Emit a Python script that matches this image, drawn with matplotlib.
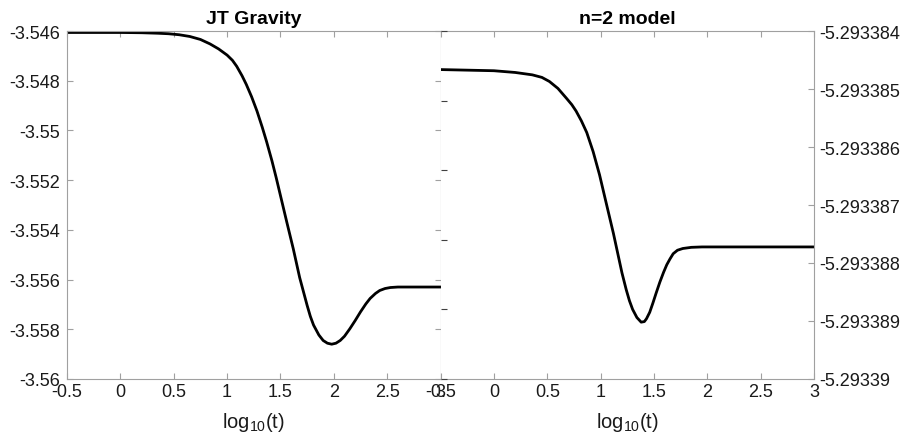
import numpy as np
import matplotlib
matplotlib.use('Agg')
import matplotlib.pyplot as plt
from matplotlib.ticker import FixedLocator, FixedFormatter

plt.rcParams['font.family'] = ['Liberation Sans', 'DejaVu Sans']
plt.rcParams['mathtext.fontset'] = 'custom'
plt.rcParams['mathtext.rm'] = 'Liberation Sans'

# JT Gravity curve
jt_x = [-0.5, 0.0, 0.2, 0.35, 0.45, 0.55, 0.65, 0.75, 0.84, 0.92, 1.0, 1.05, 1.09,
        1.14, 1.18, 1.23, 1.28, 1.33, 1.37, 1.42, 1.46, 1.51, 1.56, 1.62, 1.68,
        1.75, 1.78, 1.81, 1.86, 1.90, 1.94, 1.98, 2.02, 2.06, 2.10, 2.15, 2.20,
        2.25, 2.30, 2.34, 2.39, 2.43, 2.48, 2.53, 2.6, 2.8, 3.0]
jt_y = [-3.54606, -3.54606, -3.54607, -3.54609, -3.54611, -3.54615, -3.54622,
        -3.54634, -3.54652, -3.54672, -3.54697, -3.54718, -3.54742, -3.54780,
        -3.54815, -3.54865, -3.54922, -3.54988, -3.55045, -3.55122, -3.55190,
        -3.55280, -3.55370, -3.55476, -3.55592, -3.55704, -3.55748, -3.55783,
        -3.55823, -3.55845, -3.55856, -3.55860, -3.55856, -3.55845, -3.55828,
        -3.55798, -3.55765, -3.55730, -3.55698, -3.55676, -3.55656, -3.55644,
        -3.55636, -3.55632, -3.55630, -3.55630, -3.55630]

# n=2 model curve
n2_x = [-0.5, 0.0, 0.2, 0.36, 0.45, 0.52, 0.6, 0.68, 0.73, 0.77, 0.82, 0.87,
        0.93, 0.99, 1.04, 1.08, 1.12, 1.16, 1.2, 1.24, 1.27, 1.30, 1.34, 1.38,
        1.41, 1.43, 1.46, 1.49, 1.52, 1.555, 1.59, 1.62, 1.65, 1.68, 1.72, 1.77,
        1.85, 1.95, 2.5, 3.0]
n2_y = [-5.293384665, -5.293384685, -5.293384715, -5.293384756, -5.2933848,
        -5.29338487, -5.29338499, -5.29338516, -5.29338527, -5.29338538,
        -5.29338555, -5.29338575, -5.29338608, -5.29338648, -5.29338687,
        -5.29338718, -5.29338749, -5.29338783, -5.29338817, -5.29338846,
        -5.29338865, -5.2933888, -5.29338894, -5.29338902, -5.29338901,
        -5.29338896, -5.29338885, -5.29338869, -5.29338852, -5.29338833,
        -5.29338816, -5.29338803, -5.29338793, -5.29338784, -5.29338778,
        -5.29338775, -5.29338773, -5.293387723, -5.293387723, -5.293387723]

x_ticks = [-0.5, 0, 0.5, 1, 1.5, 2, 2.5, 3]
x_labels = ['-0.5', '0', '0.5', '1', '1.5', '2', '2.5', '3']
jt_ticks = [-3.56, -3.558, -3.556, -3.554, -3.552, -3.55, -3.548, -3.546]
n2_ticks = [-5.29339, -5.293389, -5.293388, -5.293387, -5.293386, -5.293385, -5.293384]
dummy_ticks = [0, 0.2, 0.4, 0.6, 0.8, 1.0]

spine_col = '#a0a0a0'
text_col = '#1a1a1a'
fs = 13

fig = plt.figure(figsize=(9.02, 4.39), dpi=100)
rect_l = [0.0743, 0.1344, 0.4141, 0.7927]
rect_r = [0.4884, 0.1344, 0.4141, 0.7927]


def style_axes(ax):
    for s in ax.spines.values():
        s.set_color(spine_col)
        s.set_linewidth(0.8)
    ax.tick_params(direction='in', length=4, width=0.8, color=spine_col,
                   labelcolor=text_col, labelsize=fs, pad=3)
    ax.set_xlim(-0.5, 3)
    ax.xaxis.set_major_locator(FixedLocator(x_ticks))
    ax.xaxis.set_major_formatter(FixedFormatter(x_labels))
    ax.set_xlabel('log$_{\\mathregular{10}}$(t)', fontsize=fs + 1.5, color=text_col, labelpad=7)


# left panel
ax1 = fig.add_axes(rect_l)
ax1.plot(jt_x, jt_y, color='black', lw=2.0)
style_axes(ax1)
ax1.set_ylim(-3.56, -3.546)
ax1.yaxis.set_major_locator(FixedLocator(jt_ticks))
ax1.yaxis.set_major_formatter(FixedFormatter(['{:.7g}'.format(t) for t in jt_ticks]))
ax1.tick_params(top=True, right=True)
ax1.tick_params(axis='y', pad=5)
ax1.set_title('JT Gravity', fontsize=fs + 1, fontweight='bold', color='black', pad=6)

# right panel
ax2 = fig.add_axes(rect_r)
ax2.plot(n2_x, n2_y, color='black', lw=2.0)
style_axes(ax2)
ax2.set_ylim(-5.29339, -5.293384)
ax2.yaxis.tick_right()
ax2.yaxis.set_major_locator(FixedLocator(n2_ticks))
ax2.yaxis.set_major_formatter(FixedFormatter(['{:.7g}'.format(t) for t in n2_ticks]))
ax2.tick_params(top=True, left=False)
ax2.tick_params(axis='y', pad=4)
ax2.spines['left'].set_visible(False)
ax2.set_title('n=2 model', fontsize=fs + 1, fontweight='bold', color='black', pad=6)

# left y axis of the right panel (empty, 0..1)
ax3 = fig.add_axes(rect_r, frameon=False)
ax3.patch.set_visible(False)
ax3.set_ylim(0, 1)
ax3.set_xticks([])
ax3.yaxis.set_major_locator(FixedLocator(dummy_ticks))
ax3.tick_params(axis='y', direction='in', length=4, width=0.8, color='#404040',
                labelleft=False)
ax3.spines['left'].set_visible(True)
ax3.spines['left'].set_color('#404040')
ax3.spines['left'].set_linewidth(1.2)

fig.savefig('out.png', dpi=100)
